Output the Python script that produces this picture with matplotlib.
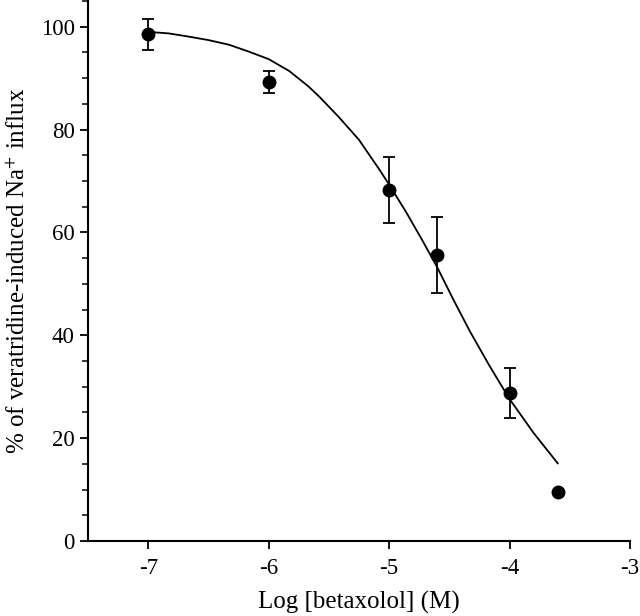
import matplotlib
matplotlib.use("Agg")
import matplotlib.pyplot as plt
from matplotlib.ticker import MultipleLocator

# measured points (mean +/- error)
log_conc = [-7.0, -6.0, -5.0, -4.6, -4.0, -3.6]
influx = [98.5, 89.3, 68.3, 55.6, 28.8, 9.6]
influx_err = [3.05, 2.1, 6.4, 7.4, 4.85, 0.0]

# fitted curve
fit_x = [-7.0, -6.83, -6.67, -6.5, -6.33, -6.17, -6.0, -5.83, -5.67, -5.58,
         -5.42, -5.25, -5.08, -5.0, -4.86, -4.73, -4.6, -4.47, -4.33, -4.17,
         -4.0, -3.8, -3.6]
fit_y = [99.0, 98.7, 98.1, 97.4, 96.5, 95.2, 93.7, 91.4, 88.4, 86.4,
         82.5, 78.0, 72.2, 69.3, 64.0, 58.7, 53.2, 47.1, 40.8, 34.2,
         27.6, 21.0, 15.1]

plt.rcParams['font.family'] = ['Liberation Serif', 'DejaVu Serif']
plt.rcParams['mathtext.fontset'] = 'stix'
plt.rcParams['axes.unicode_minus'] = False

fig = plt.figure(figsize=(6.4, 6.16), dpi=100)
ax = fig.add_axes([88 / 640, 75 / 616, 542 / 640, 540 / 616])

ax.plot(fit_x, fit_y, color='black', lw=1.3)
ax.errorbar(log_conc, influx, yerr=influx_err, fmt='o', color='black',
            ms=9, elinewidth=1.3, capsize=4, capthick=1.3)

ax.set_xlim(-7.5, -3)
ax.set_ylim(0, 105)
ax.set_xticks([-7, -6, -5, -4, -3])
ax.set_yticks([0, 20, 40, 60, 80, 100])
ax.yaxis.set_minor_locator(MultipleLocator(5))

for s in ['top', 'right']:
    ax.spines[s].set_visible(False)
for s in ['left', 'bottom']:
    ax.spines[s].set_linewidth(1.5)

ax.tick_params(axis='both', which='major', labelsize=16.5, length=6, width=1.3)
ax.tick_params(axis='x', pad=6)
ax.tick_params(axis='y', which='minor', length=4, width=1.1)

ax.set_xlabel('Log [betaxolol] (M)', fontsize=18, labelpad=9)
ax.set_ylabel('% of veratridine-induced Na$^{+}$ influx', fontsize=18, labelpad=8)

fig.savefig('out.png', dpi=100)
